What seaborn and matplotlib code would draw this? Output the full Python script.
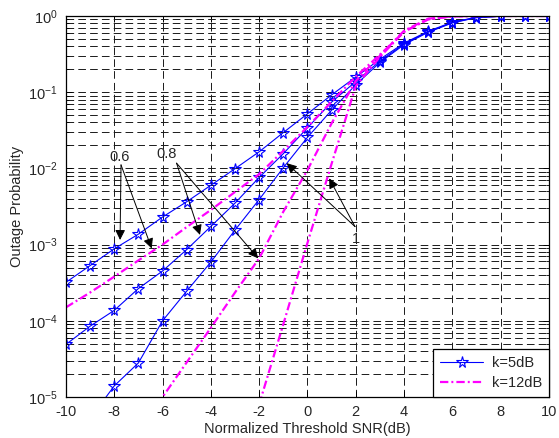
import numpy as np
import matplotlib
matplotlib.use('Agg')
import matplotlib.pyplot as plt
import seaborn as sns
from matplotlib.lines import Line2D
from matplotlib.ticker import LogLocator, LogFormatterMathtext, NullFormatter, FixedLocator

nan = np.nan
snr = list(range(-10, 11))

# k = 5dB (blue, star markers), one curve per 0.6 / 0.8 / 1
blue_06 = [3.2e-4, 5.3e-4, 8.8e-4, 1.37e-3, 2.3e-3, 3.65e-3, 6.0e-3, 9.9e-3, 1.65e-2, 2.95e-2,
           5.2e-2, 9.2e-2, 0.158, 0.27, 0.44, 0.63, 0.83, 0.96, 0.99, 1.0, 1.0]
blue_08 = [4.9e-5, 8.5e-5, 1.37e-4, 2.65e-4, 4.5e-4, 8.6e-4, 1.73e-3, 3.5e-3, 7.6e-3, 1.56e-2,
           3.4e-2, 7.4e-2, 0.138, 0.255, 0.43, 0.62, 0.82, 0.955, 0.99, 1.0, 1.0]
blue_1 = [nan, 5.2e-6, 1.4e-5, 2.8e-5, 1.0e-4, 2.45e-4, 5.9e-4, 1.55e-3, 3.9e-3, 1.02e-2,
          2.55e-2, 5.8e-2, 0.125, 0.245, 0.42, 0.61, 0.81, 0.95, 0.99, 1.0, 1.0]

# k = 12dB (magenta, dash-dot)
mag_06 = [1.5e-4, 2.35e-4, 3.8e-4, 6.2e-4, 1.0e-3, 1.7e-3, 2.85e-3, 4.9e-3, 8.4e-3, 1.7e-2,
          3.5e-2, 7.5e-2, 0.16, 0.31, 0.62, 0.9, 0.99, 1.0, 1.0, 1.0, 1.0]
mag_08 = [nan, nan, nan, 3.5e-6, 1.0e-5, 2.85e-5, 8.1e-5, 2.35e-4, 6.6e-4, 2.7e-3,
          9.5e-3, 3.9e-2, 0.14, 0.3, 0.64, 0.92, 0.99, 1.0, 1.0, 1.0, 1.0]
mag_1 = [nan, nan, nan, nan, nan, nan, nan, nan, 8e-6, 9e-5,
         1.05e-3, 1.15e-2, 0.12, 0.29, 0.62, 0.91, 0.99, 1.0, 1.0, 1.0, 1.0]

sns.set_style('ticks', {'xtick.direction': 'in', 'ytick.direction': 'in'})
plt.rcParams['font.family'] = ['Liberation Sans', 'DejaVu Sans']
plt.rcParams['mathtext.fontset'] = 'custom'
plt.rcParams['mathtext.rm'] = 'Liberation Sans'
plt.rcParams['mathtext.it'] = 'Liberation Sans:italic'
plt.rcParams['axes.unicode_minus'] = False
plt.rcParams['lines.scale_dashes'] = False

fs = 10.5
fig = plt.figure(figsize=(5.59, 4.38), dpi=100)
ax = fig.add_axes([0.118, 0.0936, 0.864, 0.870])
ax.set_yscale('log')

blue_kw = dict(color='b', lw=0.8, marker='*', ms=8.5, mfc='none', mec='b', mew=0.8)
mag_kw = dict(color='#ff00ff', lw=1.6, dashes=(6, 2.2, 1.4, 2.2))

for vals in (blue_06, blue_08, blue_1):
    sns.lineplot(x=snr, y=vals, ax=ax, **blue_kw)
for vals in (mag_06, mag_08, mag_1):
    sns.lineplot(x=snr, y=vals, ax=ax, **mag_kw)

ax.set_xlim(-10, 10)
ax.set_ylim(1e-5, 1)
ax.xaxis.set_major_locator(FixedLocator(range(-10, 11, 2)))
ax.yaxis.set_major_locator(LogLocator(base=10, numticks=10))
ax.yaxis.set_minor_locator(LogLocator(base=10, subs=np.arange(2, 10), numticks=20))
ax.yaxis.set_major_formatter(LogFormatterMathtext())
ax.yaxis.set_minor_formatter(NullFormatter())

grid_kw = dict(color='0.1', lw=0.7, dashes=(5.5, 3))
ax.grid(True, which='major', axis='both', **grid_kw)
ax.grid(True, which='minor', axis='y', **grid_kw)
ax.set_axisbelow(True)

ax.tick_params(which='both', direction='in', top=True, right=True, labelsize=fs, color='k')
ax.tick_params(which='major', length=4, width=0.7)
ax.tick_params(which='minor', length=2.5, width=0.6)
ax.tick_params(axis='x', pad=6)
ax.tick_params(axis='y', pad=6)
for s in ax.spines.values():
    s.set_color('k')
    s.set_linewidth(0.9)

ax.set_xlabel('Normalized Threshold SNR(dB)', fontsize=fs, labelpad=2)
ax.set_ylabel('Outage Probability', fontsize=fs, labelpad=3)

# annotations
arrow = dict(arrowstyle='-|>', color='k', lw=0.7, mutation_scale=15,
             shrinkA=0, shrinkB=0)
ax.text(-7.76, 1.4e-2, '0.6', fontsize=fs, ha='center', va='center')
for tip in [(-7.76, 1.15e-3), (-6.45, 8.9e-4)]:
    ax.annotate('', xy=tip, xytext=(-7.72, 1.11e-2), arrowprops=arrow)
ax.text(-5.83, 1.55e-2, '0.8', fontsize=fs, ha='center', va='center')
for tip in [(-4.45, 1.34e-3), (-2.04, 6.6e-4)]:
    ax.annotate('', xy=tip, xytext=(-5.42, 1.17e-2), arrowprops=arrow)
ax.text(2.0, 1.2e-3, '1', fontsize=fs, ha='center', va='center')
for tip in [(-0.86, 1.17e-2), (0.9, 7.4e-3)]:
    ax.annotate('', xy=tip, xytext=(1.97, 1.72e-3), arrowprops=arrow)

handles = [Line2D([], [], **blue_kw), Line2D([], [], **mag_kw)]
leg = ax.legend(handles, ['k=5dB', 'k=12dB'], loc='lower right', fontsize=fs,
                frameon=True, fancybox=False, edgecolor='k', framealpha=1,
                borderaxespad=0, handlelength=3.0, borderpad=0.45, labelspacing=0.45,
                handletextpad=0.6)
leg.get_frame().set_linewidth(0.9)

fig.savefig('out.png', dpi=100)
